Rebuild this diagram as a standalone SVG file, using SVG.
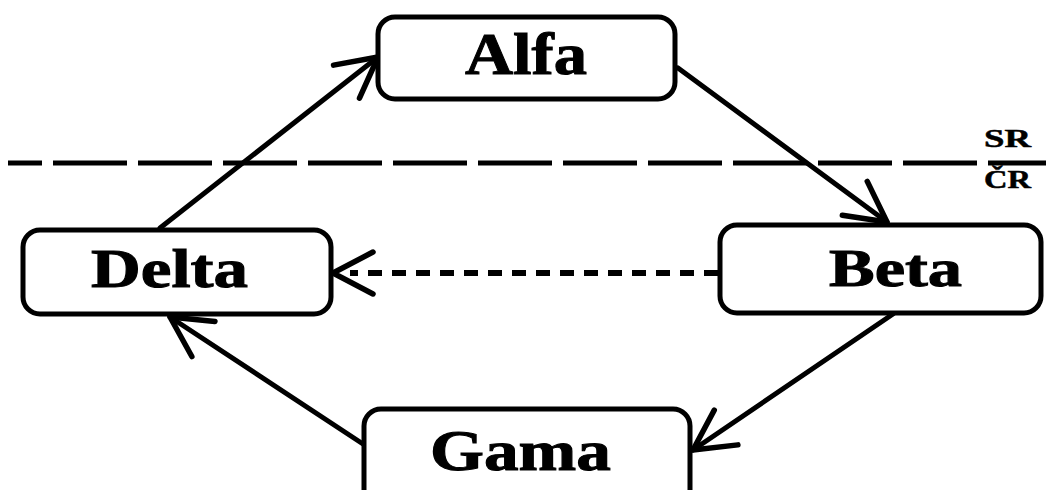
<svg xmlns="http://www.w3.org/2000/svg" width="1046" height="490" viewBox="0 0 1046 490">
<style>
.box{fill:#fff;stroke:#000;stroke-width:5}
.lbl{font-family:"Liberation Serif","Times New Roman",serif;font-weight:bold;fill:#000;stroke:#000;stroke-width:1}
.con{stroke:#000;stroke-width:5;fill:none;stroke-linecap:round}
.dash{stroke:#000;stroke-width:6;fill:none;stroke-dasharray:14 10}
.sep{stroke:#000;stroke-width:5;fill:none;stroke-dasharray:74 11;stroke-dashoffset:40}
</style>
<defs>
<marker id="arr" markerUnits="userSpaceOnUse" markerWidth="60" markerHeight="60" viewBox="-50 -30 60 60" refX="0" refY="0" orient="auto" overflow="visible">
<path d="M-40,-21 L0,0 L-40,21" fill="none" stroke="#000" stroke-width="5.5" stroke-linecap="round" stroke-linejoin="round"/>
</marker>
</defs>
<rect width="1046" height="490" fill="#fff"/>
<g id="separator">
<line class="sep" x1="8" y1="163" x2="1046" y2="163"/>
<text class="lbl" x="984" y="147" font-size="26" textLength="47" lengthAdjust="spacingAndGlyphs" style="stroke-width:0.5">SR</text>
<text class="lbl" x="984" y="188" font-size="26" textLength="47" lengthAdjust="spacingAndGlyphs" style="stroke-width:0.5">ČR</text>
</g>
<g id="connectors">
<line class="con" x1="160" y1="228" x2="378" y2="57" marker-end="url(#arr)"/>
<line class="con" x1="678" y1="68" x2="887" y2="222" marker-end="url(#arr)"/>
<line class="con" x1="893" y1="314" x2="693" y2="450" marker-end="url(#arr)"/>
<line class="con" x1="363" y1="444" x2="170" y2="317" marker-end="url(#arr)"/>
<line class="dash" x1="718" y1="273" x2="350" y2="273"/>
<line class="con" x1="350" y1="273" x2="333" y2="273" marker-end="url(#arr)" style="stroke:none"/>
</g>
<g id="alfa">
<rect class="box" x="378" y="17" width="297" height="82" rx="17"/>
<text class="lbl" x="465" y="74" font-size="60" textLength="122" lengthAdjust="spacingAndGlyphs">Alfa</text>
</g>
<g id="delta">
<rect class="box" x="23" y="230" width="308" height="84" rx="17"/>
<text class="lbl" x="91" y="287" font-size="55" textLength="157" lengthAdjust="spacingAndGlyphs">Delta</text>
</g>
<g id="beta">
<rect class="box" x="720" y="225" width="321" height="88" rx="17"/>
<text class="lbl" x="829" y="286" font-size="53" textLength="133" lengthAdjust="spacingAndGlyphs">Beta</text>
</g>
<g id="gama">
<rect class="box" x="364" y="409" width="326" height="100" rx="17"/>
<text class="lbl" x="430" y="470" font-size="57" textLength="181" lengthAdjust="spacingAndGlyphs">Gama</text>
</g>
</svg>
